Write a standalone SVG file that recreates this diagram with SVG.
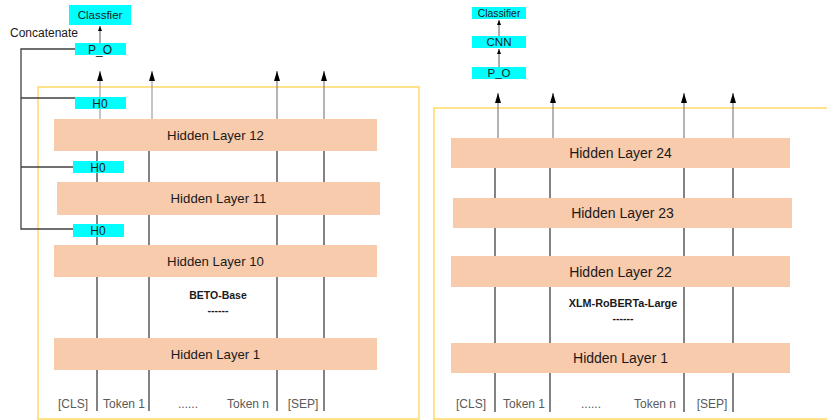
<svg xmlns="http://www.w3.org/2000/svg" width="827" height="420" viewBox="0 0 827 420">
  <defs>
    <marker id="arrow" viewBox="0 0 10 6" refX="10" refY="3" markerWidth="10" markerHeight="6" markerUnits="userSpaceOnUse" orient="auto">
      <path d="M0,0 L10,3 L0,6 Z" fill="#000"/>
    </marker>
    <marker id="arrow-sm" viewBox="0 0 5 4" refX="5" refY="2" markerWidth="5" markerHeight="4" markerUnits="userSpaceOnUse" orient="auto">
      <path d="M0,0 L5,2 L0,4 Z" fill="#000"/>
    </marker>
    <style>
      .frame { fill: none; stroke: #FFD966; stroke-width: 1.5; }
      .layer { fill: #F8CBAD; }
      .cyan { fill: #00FFFF; }
      .txt { font-family: "Liberation Sans", Arial, sans-serif; fill: #1a1a1a; text-anchor: middle; }
      .tok { font-family: "Liberation Sans", Arial, sans-serif; fill: #595959; font-size: 12px; text-anchor: middle; }
      .bold { font-weight: bold; }
      .flow { stroke: #404040; stroke-width: 1.3; fill: none; }
      .up { stroke: #a6a6a6; stroke-width: 1.3; fill: none; marker-end: url(#arrow); }
      .up2 { stroke: #8c8c8c; stroke-width: 1.3; fill: none; marker-end: url(#arrow); }
      .small { stroke: #595959; stroke-width: 1; fill: none; marker-end: url(#arrow-sm); }
    </style>
  </defs>

  <!-- model frames -->
  <rect class="frame" x="38" y="87" width="381" height="332"/>
  <rect class="frame" x="434" y="108" width="400" height="311"/>

  <!-- connectors -->
  <g id="connectors">
    <!-- BETO token columns -->
    <line class="flow" x1="97" y1="411" x2="97" y2="151"/>
    <line class="flow" x1="149" y1="411" x2="149" y2="151"/>
    <line class="flow" x1="277" y1="411" x2="277" y2="151"/>
    <line class="flow" x1="324" y1="411" x2="324" y2="151"/>
    <!-- BETO outputs -->
    <line class="up" x1="100" y1="119" x2="100" y2="71"/>
    <line class="up" x1="152" y1="119" x2="152" y2="71"/>
    <line class="up2" x1="277" y1="119" x2="277" y2="71"/>
    <line class="up2" x1="324" y1="119" x2="324" y2="71"/>
    <line class="small" x1="100" y1="43" x2="100" y2="26"/>
    <!-- concatenate bracket -->
    <polyline class="flow" points="75,49 21,49 21,229 73,229"/>
    <line class="flow" x1="21" y1="98" x2="75" y2="98"/>
    <line class="flow" x1="21" y1="167" x2="73" y2="167"/>

    <!-- XLM-R token columns -->
    <line class="flow" x1="495" y1="412" x2="495" y2="168"/>
    <line class="flow" x1="550" y1="412" x2="550" y2="168"/>
    <line class="flow" x1="684" y1="412" x2="684" y2="168"/>
    <line class="flow" x1="733" y1="412" x2="733" y2="168"/>
    <!-- XLM-R outputs -->
    <line class="up2" x1="498" y1="138" x2="498" y2="93"/>
    <line class="up2" x1="553" y1="138" x2="553" y2="93"/>
    <line class="up2" x1="684" y1="138" x2="684" y2="93"/>
    <line class="up2" x1="733" y1="138" x2="733" y2="93"/>
    <line class="small" x1="499" y1="67" x2="499" y2="49"/>
    <line class="small" x1="499" y1="36" x2="499" y2="20"/>
  </g>

  <!-- BETO-Base -->
  <g id="beto-classifier">
    <rect class="cyan" x="69" y="5" width="62" height="20"/>
    <text class="txt" x="100" y="19" font-size="11.5">Classfier</text>
  </g>
  <text class="txt" x="44" y="37" font-size="12">Concatenate</text>
  <g id="beto-po">
    <rect class="cyan" x="75" y="43" width="51" height="12"/>
    <text class="txt" x="100" y="53.5" font-size="12">P_O</text>
  </g>
  <g id="beto-h0-12">
    <rect class="cyan" x="75" y="97" width="51" height="12"/>
    <text class="txt" x="100" y="107.5" font-size="12">H0</text>
  </g>
  <g id="beto-layer-12">
    <rect class="layer" x="54" y="119" width="323" height="32"/>
    <text class="txt" x="215.5" y="139.5" font-size="13.2">Hidden Layer 12</text>
  </g>
  <g id="beto-h0-11">
    <rect class="cyan" x="73" y="161" width="51" height="12"/>
    <text class="txt" x="98" y="171.5" font-size="12">H0</text>
  </g>
  <g id="beto-layer-11">
    <rect class="layer" x="57" y="182" width="323" height="33"/>
    <text class="txt" x="218.5" y="203" font-size="13.2">Hidden Layer 11</text>
  </g>
  <g id="beto-h0-10">
    <rect class="cyan" x="73" y="224" width="51" height="13"/>
    <text class="txt" x="98" y="235" font-size="12">H0</text>
  </g>
  <g id="beto-layer-10">
    <rect class="layer" x="54" y="245" width="323" height="32"/>
    <text class="txt" x="215.5" y="265.5" font-size="13.2">Hidden Layer 10</text>
  </g>
  <text class="txt bold" x="218" y="299" font-size="10.5">BETO-Base</text>
  <text class="txt bold" x="218" y="314" font-size="10.5">------</text>
  <g id="beto-layer-1">
    <rect class="layer" x="54" y="338" width="323" height="32"/>
    <text class="txt" x="215.5" y="358.5" font-size="13.2">Hidden Layer 1</text>
  </g>
  <g id="beto-tokens">
    <text class="tok" x="73" y="408" font-size="11.5">[CLS]</text>
    <text class="tok" x="124" y="408">Token 1</text>
    <text class="tok" x="188" y="408" font-size="10">......</text>
    <text class="tok" x="248" y="408">Token n</text>
    <text class="tok" x="303" y="408" font-size="11.5">[SEP]</text>
  </g>

  <!-- XLM-RoBERTa-Large -->
  <g id="xlmr-classifier">
    <rect class="cyan" x="472" y="7" width="54" height="12"/>
    <text class="txt" x="499" y="16.5" font-size="10.4">Classifier</text>
  </g>
  <g id="xlmr-cnn">
    <rect class="cyan" x="472" y="36" width="54" height="12"/>
    <text class="txt" x="499" y="46" font-size="11.5">CNN</text>
  </g>
  <g id="xlmr-po">
    <rect class="cyan" x="472" y="67" width="54" height="12"/>
    <text class="txt" x="499" y="77" font-size="11.5">P_O</text>
  </g>
  <g id="xlmr-layer-24">
    <rect class="layer" x="451" y="138" width="339" height="30"/>
    <text class="txt" x="620.5" y="158" font-size="14">Hidden Layer 24</text>
  </g>
  <g id="xlmr-layer-23">
    <rect class="layer" x="453" y="198" width="339" height="30"/>
    <text class="txt" x="622.5" y="218" font-size="14">Hidden Layer 23</text>
  </g>
  <g id="xlmr-layer-22">
    <rect class="layer" x="451" y="256" width="339" height="31"/>
    <text class="txt" x="620.5" y="276.5" font-size="14">Hidden Layer 22</text>
  </g>
  <text class="txt bold" x="623" y="307" font-size="10.8">XLM-RoBERTa-Large</text>
  <text class="txt bold" x="623" y="322" font-size="10.5">------</text>
  <g id="xlmr-layer-1">
    <rect class="layer" x="451" y="343" width="339" height="30"/>
    <text class="txt" x="620.5" y="363" font-size="14">Hidden Layer 1</text>
  </g>
  <g id="xlmr-tokens">
    <text class="tok" x="471" y="408" font-size="12">[CLS]</text>
    <text class="tok" x="524" y="408" font-size="12.5">Token 1</text>
    <text class="tok" x="591" y="408" font-size="10">......</text>
    <text class="tok" x="655" y="408" font-size="12.5">Token n</text>
    <text class="tok" x="712" y="408" font-size="12">[SEP]</text>
  </g>
</svg>
